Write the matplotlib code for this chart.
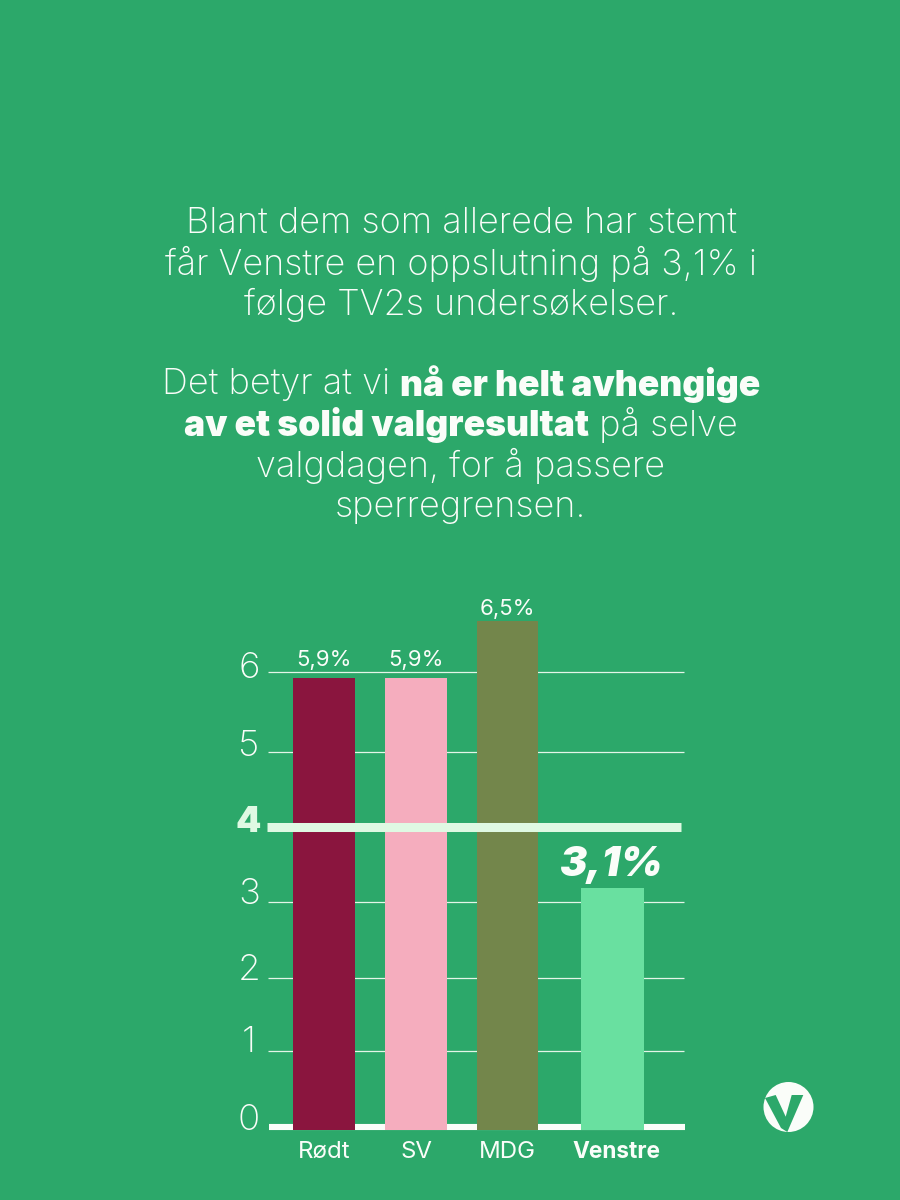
import matplotlib
matplotlib.use('Agg')
import matplotlib.pyplot as plt
from matplotlib.patches import Polygon, Ellipse

# verdier lest av bildet
partier = ['Rødt', 'SV', 'MDG', 'Venstre']
hoyder = [5.92, 5.92, 6.67, 3.15]
etiketter = ['5,9%', '5,9%', '6,5%', '3,1%']
farger = ['#8A153E', '#F5ADBE', '#73864B', '#69E0A0']
ytick_tekst = ['0', '1', '2', '3', '4', '5', '6']
# rutenettet er ikke helt jevnt i originalen
rutenett = [0, 1, 1.97, 2.97, 3.95, 4.95, 6]

linjer1 = [
    [('Blant dem som allerede har stemt', False)],
    [('får Venstre en oppslutning på 3,1% i', False)],
    [('følge TV2s undersøkelser.', False)],
]
linjer2 = [
    [('Det betyr at vi ', False), ('nå er helt avhengige', True)],
    [('av et solid valgresultat', True), (' på selve', False)],
    [('valgdagen, for å passere', False)],
    [('sperregrensen.', False)],
]

GRONN = '#2CA86A'
HVIT = '#FAFDF9'
LYS = '#DFF9E3'
W, H = 900, 1200

plt.rcParams['font.family'] = ['Inter', 'DejaVu Sans']
fig = plt.figure(figsize=(W / 100, H / 100), dpi=100, facecolor=GRONN)

# akser i piksler: 0 ligger på y=1127, 6 på y=672
piks_per_enhet = (1127 - 672) / 6
ax = fig.add_axes([0, 0, 1, 1])
ax.set_xlim(0, W)
ax.set_ylim(-(H - 1127) / piks_per_enhet, 1127 / piks_per_enhet)
ax.axis('off')

x_pos = [324, 416, 507.5, 612.5]
bredder = [62, 62, 61, 63]

for tekst, v in zip(ytick_tekst, rutenett):
    if tekst == '0':
        ax.plot([269, 685], [v, v], color=HVIT, lw=4.4, zorder=1, solid_capstyle='butt')
    elif tekst == '4':
        ax.plot([267, 681], [v, v], color=LYS, lw=6.5, zorder=3, solid_capstyle='butt')
    else:
        ax.plot([268, 684], [v, v], color='#E4F5E8', lw=0.9, zorder=1, solid_capstyle='butt')

# søylene går litt ned i grunnlinja
ax.bar(x_pos, [h + 0.04 for h in hoyder], bottom=-0.04, width=bredder, color=farger, zorder=2)


def piks(x, y, s, **kw):
    # tekst plassert med midtpunkt i piksler fra øverste venstre hjørne
    return fig.text(x / W, 1 - y / H, s, ha='center', va='center', **kw)


lab_y = [660, 660, 609, 865]
kat_x = [324, 416, 507.5, 616]
for i, p in enumerate(partier):
    if p == 'Venstre':
        piks(612, lab_y[i], etiketter[i], color=HVIT, fontsize=29.5, fontweight='black', style='italic', zorder=5)
        piks(kat_x[i], 1152, p, color=HVIT, fontsize=16.3, fontweight='bold')
    else:
        piks(x_pos[i], lab_y[i], etiketter[i], color=HVIT, fontsize=16, fontweight='normal')
        piks(kat_x[i], 1152, p, color=HVIT, fontsize=17.3, fontweight='normal')

tick_y = [1120, 1042, 970, 894, 823, 747, 668]
for tekst, y in zip(ytick_tekst, tick_y):
    if tekst == '4':
        piks(248, y, tekst, color=LYS, fontsize=26, fontweight='black')
    else:
        piks(249, y, tekst, color=HVIT, fontsize=26.5, fontweight='light')


def tegn_linje(runs, y):
    # setter sammen tynne og fete biter og sentrerer linja
    r = fig.canvas.get_renderer()
    tekster = []
    total = 0
    for s, fet in runs:
        t = fig.text(0, 1 - y / H, s, color=HVIT, fontsize=25.5 if fet else 26,
                     fontweight='black' if fet else 'light', va='center', ha='left')
        b = t.get_window_extent(r)
        tekster.append((t, b.width))
        total += b.width
    x = 461 - total / 2
    for t, bredde in tekster:
        t.set_x(x / W)
        x += bredde


for i, runs in enumerate(linjer1):
    tegn_linje(runs, 223 + i * 41)
for i, runs in enumerate(linjer2):
    tegn_linje(runs, 384 + i * 41)

# logo nederst til høyre
ax2 = fig.add_axes([0, 0, 1, 1])
ax2.set_xlim(0, W)
ax2.set_ylim(H, 0)
ax2.axis('off')
ax2.add_patch(Ellipse((788.5, 1107), 50, 50, color=HVIT, lw=0))
ax2.add_patch(Polygon([(765, 1098), (775.7, 1095), (785.7, 1116.7), (791.7, 1095), (803.3, 1095),
                       (787.3, 1132), (781, 1128)], color=GRONN, lw=0))

fig.savefig('out.png', dpi=100, facecolor=GRONN)
